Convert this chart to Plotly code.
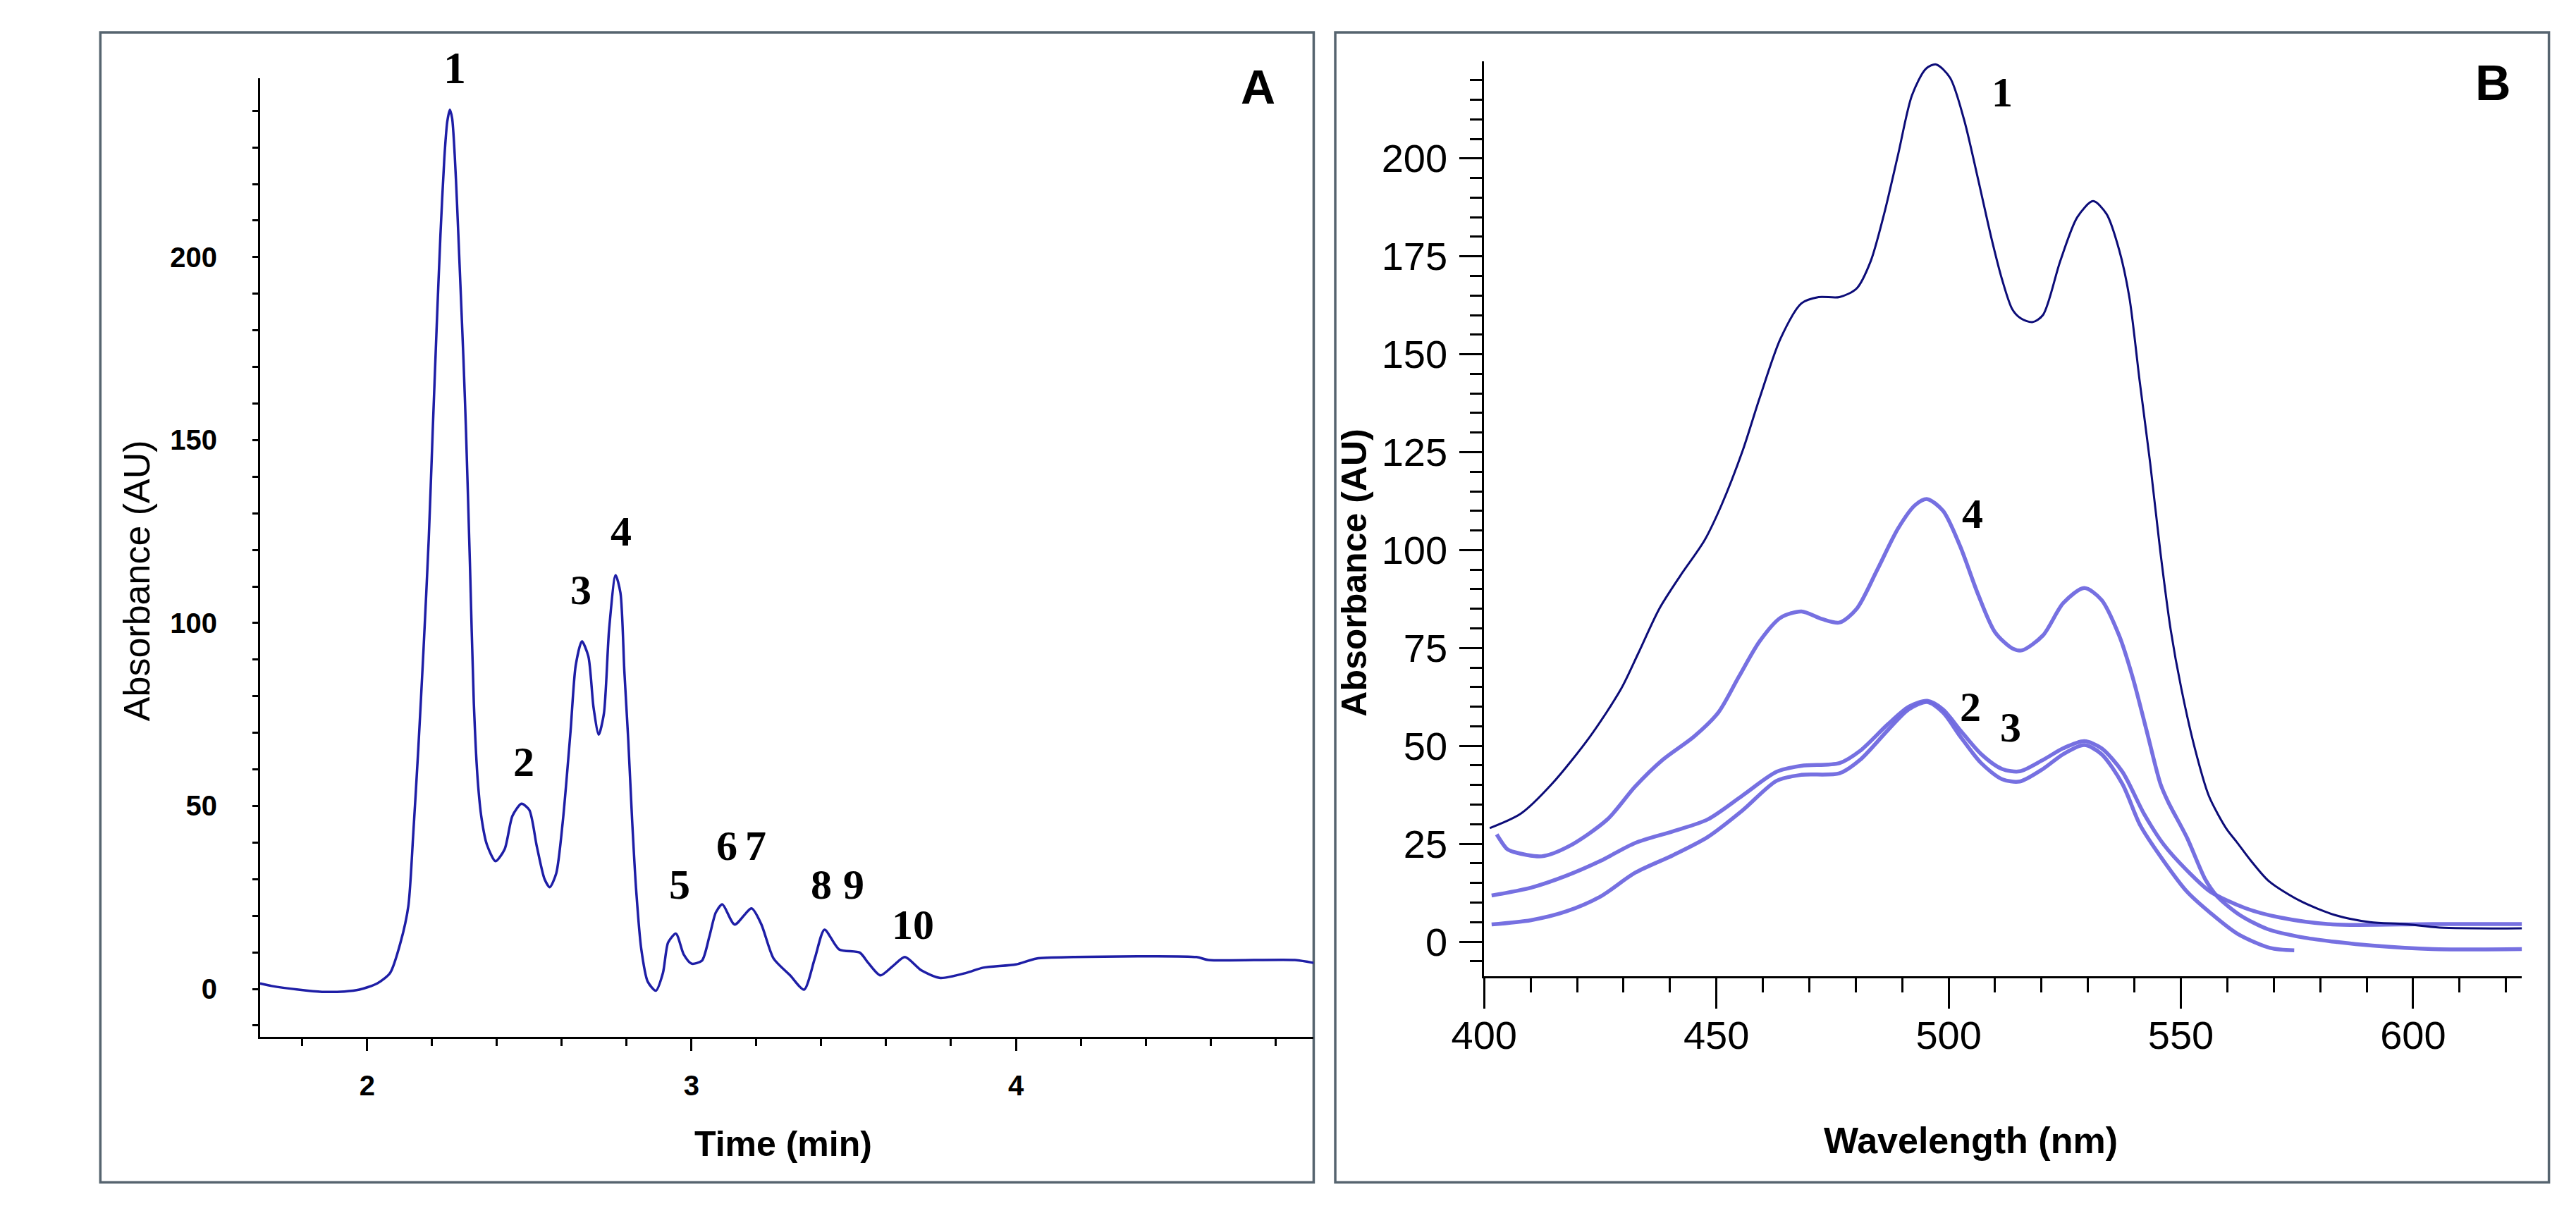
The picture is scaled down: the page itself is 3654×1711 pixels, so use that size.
import plotly.graph_objects as go

W, H = 3654, 1711

# ---------------- Panel A: chromatogram ----------------
time_min = [1.670, 1.706, 1.788, 1.861, 1.930, 1.976, 2.031, 2.071, 2.103, 2.127, 2.142, 2.158,
            2.174, 2.190, 2.202, 2.214, 2.226, 2.238, 2.247, 2.255, 2.262, 2.270, 2.277, 2.285,
            2.297, 2.305, 2.317, 2.329, 2.341, 2.353, 2.369, 2.396, 2.424, 2.448, 2.476, 2.500,
            2.523, 2.547, 2.563, 2.583, 2.603, 2.627, 2.643, 2.662, 2.682, 2.698, 2.714, 2.730,
            2.746, 2.766, 2.781, 2.793, 2.805, 2.817, 2.829, 2.845, 2.865, 2.890, 2.912, 2.928,
            2.952, 2.976, 3.000, 3.032, 3.055, 3.075, 3.095, 3.133, 3.185, 3.215, 3.253, 3.304,
            3.347, 3.380, 3.410, 3.455, 3.519, 3.544, 3.582, 3.620, 3.658, 3.708, 3.767, 3.848,
            3.899, 4.000, 4.063, 4.177, 4.557, 4.594, 4.860, 4.918]
absorb_a = [1.5, 0.8, -0.2, -0.8, -0.7, -0.2, 1.5, 4.4, 12.7, 22.6, 42.0, 66.0,
            93.0, 123.0, 152.0, 180.0, 206.0, 227.0, 237.0, 240.3, 238.0, 228.0, 215.0, 198.0,
            172.0, 152.0, 116.0, 78.0, 57.0, 46.5, 39.5, 34.9, 38.2, 47.3, 50.6, 48.9,
            39.0, 30.0, 27.8, 31.6, 45.6, 70.3, 88.4, 95.0, 90.9, 76.9, 69.5, 75.3,
            98.3, 113.1, 108.2, 86.8, 68.0, 46.0, 27.5, 11.0, 2.0, -0.5, 4.4, 12.7,
            15.1, 9.4, 6.9, 7.7, 14.3, 20.9, 23.1, 17.6, 22.0, 17.7, 8.3, 3.7,
            -0.2, 8.3, 16.2, 10.8, 9.9, 7.2, 3.7, 6.2, 8.7, 5.1, 3.0, 4.4,
            5.8, 6.7, 8.3, 8.7, 8.7, 7.9, 7.9, 7.1]

peak_labels_a = ["2", "3", "4", "5", "6", "7", "8", "9", "10"]
peak_x_a = [2.484, 2.658, 2.784, 2.964, 3.109, 3.197, 3.400, 3.501, 3.683]
peak_y_a = [62.1, 109.0, 125.0, 28.5, 39.2, 39.2, 28.5, 28.5, 17.5]

# ---------------- Panel B: UV-Vis spectra ----------------
wl_1 = [401.2, 407.9, 414.6, 422.8, 429.5, 433.2, 437.7, 442.2, 447.4, 451.1, 455.6, 459.3,
        463.8, 468.3, 472.0, 476.5, 480.2, 483.2, 486.1, 489.1, 492.1, 495.1, 497.3, 500.3,
        503.3, 506.3, 509.2, 511.5, 513.7, 515.5, 518.0, 520.3, 524.0, 527.7, 531.1, 534.0,
        536.7, 538.9, 541.1, 543.4, 545.6, 547.8, 550.1, 553.0, 556.0, 558.0, 560.0, 562.0,
        565.0, 569.0, 575.7, 583.2, 590.7, 598.2, 605.7, 623.8]
ab_1 = [29.0, 32.7, 40.3, 52.4, 64.6, 73.7, 85.0, 93.4, 102.4, 111.5, 125.2, 138.8,
        154.0, 163.0, 164.6, 164.6, 166.8, 173.7, 185.8, 200.9, 216.1, 222.9, 224.0, 220.6,
        210.0, 194.9, 179.7, 169.1, 161.5, 159.2, 158.2, 160.0, 173.7, 185.0, 189.1, 185.8,
        176.7, 164.6, 143.4, 122.1, 99.4, 79.7, 64.6, 49.4, 37.3, 32.5, 28.5, 25.5,
        20.8, 15.4, 10.4, 6.8, 5.0, 4.5, 3.6, 3.4]

wl_2 = [401.6, 410.1, 417.6, 425.0, 432.5, 440.7, 448.1, 455.6, 463.0, 468.3, 476.5, 480.9,
        486.9, 491.4, 495.4, 498.8, 502.5, 507.0, 511.5, 515.3, 520.3, 524.7, 529.2, 532.9,
        537.4, 542.0, 546.3, 551.3, 556.3, 563.8, 571.2, 582.7, 604.2, 623.8]
ab_2 = [11.8, 13.8, 16.8, 20.6, 25.2, 28.2, 31.2, 37.3, 43.4, 44.9, 45.6, 48.7,
        55.5, 60.0, 61.5, 59.3, 54.0, 47.9, 44.1, 43.5, 46.4, 49.4, 51.2, 49.4,
        43.4, 32.8, 24.8, 18.2, 12.8, 8.6, 6.2, 4.4, 4.5, 4.5]

wl_3 = [401.6, 410.1, 417.6, 425.0, 432.5, 440.7, 448.1, 455.6, 463.0, 468.3, 476.5, 480.9,
        486.9, 491.4, 495.4, 498.8, 502.5, 507.0, 511.5, 515.3, 520.3, 524.7, 529.2, 532.9,
        537.4, 541.3, 546.3, 551.3, 556.3, 562.2, 569.2, 574.4]
ab_3 = [4.4, 5.5, 7.7, 11.5, 17.6, 22.1, 26.7, 33.5, 41.1, 42.6, 43.0, 46.4,
        54.0, 59.3, 61.2, 58.5, 52.4, 45.6, 41.5, 40.9, 44.1, 47.9, 50.2, 47.9,
        40.3, 29.6, 20.6, 12.8, 7.4, 2.0, -1.6, -2.2]

wl_4 = [402.7, 404.9, 406.4, 412.4, 418.3, 426.5, 432.5, 438.4, 445.2, 450.4, 454.8, 459.3,
        463.8, 468.3, 472.7, 476.5, 480.2, 484.6, 489.1, 492.8, 495.4, 498.8, 502.5, 506.3,
        510.0, 513.7, 515.8, 520.3, 524.7, 529.2, 532.9, 536.7, 539.6, 542.6, 545.6, 547.3,
        551.3, 555.3, 557.8, 562.7, 568.7, 576.2, 583.7, 591.2, 604.2, 623.8]
ab_4 = [27.4, 23.7, 22.9, 21.8, 24.4, 31.2, 39.6, 46.4, 52.4, 58.5, 67.6, 76.7,
        82.7, 84.3, 82.4, 81.5, 85.0, 94.9, 105.5, 111.5, 113.0, 110.0, 100.9, 88.8,
        79.0, 74.9, 74.4, 78.2, 86.5, 90.3, 87.3, 78.2, 67.6, 54.0, 40.3, 35.6,
        26.6, 15.8, 11.6, 6.8, 3.2, 1.1, -0.1, -1.0, -1.9, -1.9]

peak_labels_b = ["1", "4", "2", "3"]
peak_x_b = [511.5, 505.2, 504.7, 513.3]
peak_y_b = [216.9, 109.3, 60.0, 54.8]

# ---------------- styles ----------------
NAVY_A = "#1e1ea6"
NAVY_B = "#0c0c78"
LIGHT_B = "#6f69e0"
BORDER = "#56646f"
SERIF = "Liberation Serif, Times New Roman, serif"
SANS = "Liberation Sans, Arial, sans-serif"


def px(v):
    return v / W


def py(v):
    return 1 - v / H


fig = go.Figure()

fig.add_trace(go.Scatter(x=time_min, y=absorb_a, mode="lines",
                         line=dict(color=NAVY_A, width=3.5, shape="spline", smoothing=0.7),
                         xaxis="x", yaxis="y", showlegend=False, hoverinfo="skip"))

for wl, ab in [(wl_3, ab_3), (wl_2, ab_2), (wl_4, ab_4)]:
    fig.add_trace(go.Scatter(x=wl, y=ab, mode="lines",
                             line=dict(color=LIGHT_B, width=5.5, shape="spline", smoothing=0.8),
                             opacity=0.95, xaxis="x2", yaxis="y2", showlegend=False,
                             hoverinfo="skip"))
fig.add_trace(go.Scatter(x=wl_1, y=ab_1, mode="lines",
                         line=dict(color=NAVY_B, width=3, shape="spline", smoothing=0.8),
                         xaxis="x2", yaxis="y2", showlegend=False, hoverinfo="skip"))

axis_common = dict(showgrid=False, zeroline=False, showline=True, linecolor="black",
                   linewidth=3, ticks="outside", tickcolor="black", tickwidth=3,
                   mirror=False)

fig.update_layout(
    width=W, height=H,
    margin=dict(l=0, r=0, t=0, b=0),
    paper_bgcolor="white", plot_bgcolor="rgba(0,0,0,0)",
    xaxis=dict(domain=[px(318), px(1832)], range=[1.670, 4.918], anchor="y",
               dtick=1, tick0=0, ticklen=17, ticklabelstandoff=15,
               tickfont=dict(family=SANS, size=40, color="black", weight="bold"),
               minor=dict(dtick=0.2, ticklen=10, tickwidth=3, tickcolor="black",
                          ticks="outside"),
               **axis_common),
    yaxis=dict(domain=[py(1463), py(103)], range=[-13.1, 248.9], anchor="x",
               dtick=50, tick0=0, ticklen=8, ticklabelstandoff=42,
               tickfont=dict(family=SANS, size=40, color="black", weight="bold"),
               minor=dict(dtick=10, ticklen=8, tickwidth=3, tickcolor="black",
                          ticks="outside"),
               **axis_common),
    xaxis2=dict(domain=[px(2077), px(3568)], range=[400, 623.4], anchor="y2",
                dtick=50, tick0=0, ticklen=43, ticklabelstandoff=-10,
                tickfont=dict(family=SANS, size=56, color="black"),
                minor=dict(dtick=10, ticklen=20, tickwidth=3, tickcolor="black",
                           ticks="outside"),
                **axis_common),
    yaxis2=dict(domain=[py(1377), py(78.6)], range=[-8.82, 224.87], anchor="x2",
                dtick=25, tick0=0, ticklen=32, ticklabelstandoff=6,
                tickfont=dict(family=SANS, size=56, color="black"),
                minor=dict(dtick=5, ticklen=17, tickwidth=3, tickcolor="black",
                           ticks="outside"),
                **axis_common),
)

# Panel borders
for x0, x1 in [(88.5, 1832), (1863, 3607)]:
    fig.add_shape(type="rect", xref="paper", yref="paper",
                  x0=px(x0), x1=px(x1), y0=py(1669.5), y1=py(38),
                  line=dict(color=BORDER, width=3.5), fillcolor="rgba(0,0,0,0)",
                  layer="below")

C = dict(xanchor="center", yanchor="middle", showarrow=False)
ann = []
# axis titles
ann.append(dict(text="Absorbance (AU)", x=px(141), y=py(816), xref="paper", yref="paper",
                textangle=-90, font=dict(family=SANS, size=52, color="black"), **C))
ann.append(dict(text="<b>Absorbance (AU)</b>", x=px(1890), y=py(805), xref="paper",
                yref="paper", textangle=-90,
                font=dict(family=SANS, size=50, color="black"), **C))
ann.append(dict(text="<b>Time (min)</b>", x=px(1070), y=py(1615), xref="paper",
                yref="paper", font=dict(family=SANS, size=50, color="black"), **C))
ann.append(dict(text="<b>Wavelength (nm)</b>", x=px(2776), y=py(1610), xref="paper",
                yref="paper", font=dict(family=SANS, size=52, color="black"), **C))
# panel letters
ann.append(dict(text="<b>A</b>", x=px(1752), y=py(114.6), xref="paper", yref="paper",
                font=dict(family=SANS, size=68, color="black"), **C))
ann.append(dict(text="<b>B</b>", x=px(3526.4), y=py(110.5), xref="paper", yref="paper",
                font=dict(family=SANS, size=70, color="black"), **C))
# peak labels A
ann.append(dict(text="<b>1</b>", x=2.269, y=py(89), xref="x", yref="paper",
                font=dict(family=SERIF, size=64, color="black"), **C))
for t, xv, yv in zip(peak_labels_a, peak_x_a, peak_y_a):
    ann.append(dict(text="<b>" + t + "</b>", x=xv, y=yv, xref="x", yref="y",
                    font=dict(family=SERIF, size=60, color="black"), **C))
# peak labels B
for t, xv, yv in zip(peak_labels_b, peak_x_b, peak_y_b):
    ann.append(dict(text="<b>" + t + "</b>", x=xv, y=yv, xref="x2", yref="y2",
                    font=dict(family=SERIF, size=60, color="black"), **C))

fig.update_layout(annotations=ann)

fig.write_html("out.html")
